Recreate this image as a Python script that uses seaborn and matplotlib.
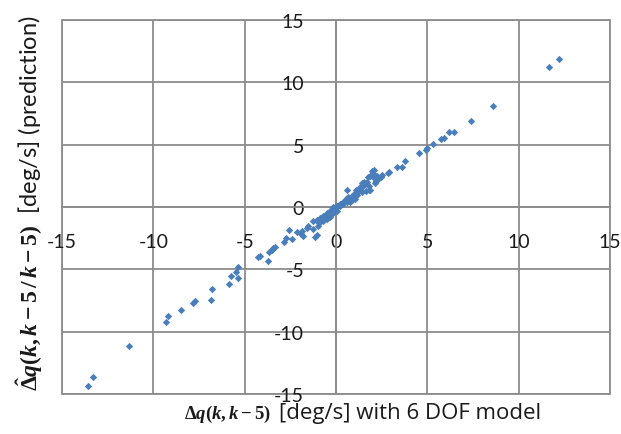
import pandas as pd
import matplotlib
import matplotlib.pyplot as plt
import seaborn as sns
from matplotlib.ticker import MultipleLocator
matplotlib.use("Agg")

# values
x_model = [
    12.19, 11.67, 8.59, 7.38, 6.44, 6.18, 5.89, 5.76, 5.32, 4.96, 4.95, 4.52,
    3.76, 3.60, 3.32, 2.92, 2.82, 2.54, 2.44, 2.32, 2.08, 1.99, 1.73, 1.42,
    1.53, 1.82, 2.13, 2.19, 0.60, 1.86, 1.82, 2.04, 1.86, 2.01, 2.26,
    1.09, 1.22, 0.95, 0.77, 1.13, 0.86, 0.49, 0.31, 0.13, -0.15, 1.31, 1.59,
    0.04, 0.22, 0.40, 0.55, 0.67, 0.86, 0.99, 1.13, 1.31, 1.46, 1.59, 1.71,
    1.41, 1.64, 1.04, 0.77, -0.33, -0.51, -0.70, -0.88, -1.06, -0.15, -0.24,
    -0.05, 0.22, 0.40, 0.58, 0.77, 0.95, -1.24, -1.06, -0.78, -0.60, -0.42,
    -0.24, -0.97, -0.88, -0.70, -0.51, -0.33, -0.24, -0.15, 0.04,
    -2.85, -2.74, -2.56, -2.43, -2.15, -1.93, -1.79, -1.88, -1.60, -1.52,
    -1.15, -1.06, -1.24,
    -4.16, -4.25, -3.71, -3.65, -3.52, -3.43, -3.34,
    -5.35, -5.49, -5.76, -5.35, -5.86, -6.80, -6.86, -7.72, -7.85, -8.50,
    -9.21, -9.30, -11.31, -13.30, -13.57,
]
y_pred = [
    11.84, 11.20, 8.07, 6.92, 5.99, 5.99, 5.56, 5.45, 5.04, 4.76, 4.60, 4.31,
    3.66, 3.23, 3.23, 2.82, 2.73, 2.57, 2.42, 2.25, 2.97, 2.86, 2.43, 1.95,
    2.00, 1.36, 1.92, 2.11, 1.36, 1.39, 1.66, 2.73, 2.51, 2.38, 2.51,
    1.39, 1.23, 0.91, 0.72, 0.96, 0.59, 0.51, 0.24, 0.10, -0.02, 1.58, 1.84,
    0.10, 0.24, 0.43, 0.64, 0.78, 0.91, 1.04, 1.23, 1.44, 1.66, 1.84, 2.03,
    1.18, 1.31, 0.64, 0.43, -0.30, -0.48, -0.70, -0.91, -1.10, -0.10, -0.43,
    -0.02, 0.10, 0.24, 0.38, 0.51, 0.64, -1.10, -1.02, -0.91, -0.75, -0.64,
    -0.16, -1.50, -1.23, -1.10, -0.96, -0.83, -0.56, -0.43, -0.30,
    -2.78, -2.51, -1.82, -2.57, -2.03, -2.17, -2.35, -1.90, -1.71, -1.50,
    -2.43, -2.25, -1.76,
    -3.95, -4.03, -4.31, -3.58, -3.42, -3.31, -3.23,
    -4.84, -5.24, -5.56, -5.69, -6.20, -6.58, -7.43, -7.56, -7.70, -8.26,
    -8.71, -9.25, -11.12, -13.63, -14.38,
]
major_ticks = [-15, -10, -5, 0, 5, 10, 15]

df = pd.DataFrame({'model': x_model, 'prediction': y_pred})

sns.set_style('white')
plt.rcParams['font.family'] = ['Lato', 'DejaVu Sans']
plt.rcParams['mathtext.fontset'] = 'custom'
plt.rcParams['mathtext.it'] = 'Liberation Serif:italic:bold'
plt.rcParams['mathtext.rm'] = 'Liberation Serif:bold'
plt.rcParams['mathtext.bf'] = 'Liberation Serif:bold'

grid_col = '#8c8c8c'
text_col = '#1a1a1a'

fig = plt.figure(figsize=(6.21, 4.35), dpi=100)
ax = fig.add_axes([62 / 621, 40 / 435, 548 / 621, 374 / 435])

sns.scatterplot(data=df, x='model', y='prediction', ax=ax, marker='D', s=14,
                color='#4a7ebb', linewidth=0, zorder=3)

ax.set_xlim(-15, 15)
ax.set_ylim(-15, 15)
ax.set_xticks(major_ticks)
ax.set_yticks(major_ticks)
ax.xaxis.set_minor_locator(MultipleLocator(1))
ax.yaxis.set_minor_locator(MultipleLocator(1))
ax.grid(which='major', color=grid_col, linewidth=1.3)
ax.set_axisbelow(True)

# frame drawn by the axes patch, axis lines cross at the origin
ax.patch.set_edgecolor(grid_col)
ax.patch.set_linewidth(1.3)
ax.spines['top'].set_visible(False)
ax.spines['right'].set_visible(False)
for side in ['left', 'bottom']:
    ax.spines[side].set_position('zero')
    ax.spines[side].set_color(grid_col)
    ax.spines[side].set_linewidth(1.3)

ax.tick_params(which='both', direction='out', length=5, width=1.1,
               color=grid_col, labelsize=14, labelcolor=text_col)
ax.tick_params(axis='x', which='major', pad=14)
ax.tick_params(axis='y', which='major', pad=18)
ax.set_xticklabels([str(t) for t in major_ticks])
ax.set_yticklabels([str(t) for t in major_ticks])
ax.set_xlabel('')
ax.set_ylabel('')

# x axis title: math part and plain part
fig.text(227 / 621, 1 - 414 / 435, r'$\mathit{\Delta q(k,k-5)}$',
         ha='center', va='center', fontsize=13.5, color=text_col)
fig.text(279 / 621, 1 - 414 / 435, '[deg/s] with 6 DOF model',
         ha='left', va='center', fontsize=16, color=text_col,
         family=['Open Sans', 'DejaVu Sans'])

fig.text(30 / 621, 1 - 203 / 435,
         r'$\hat{\mathit{\Delta}}\mathit{q(k,k-5\,/\,k-5)}$  [deg/s] (prediction)',
         ha='center', va='center', rotation=90, fontsize=17, color=text_col)

fig.savefig('out.png', dpi=100, facecolor='white')
